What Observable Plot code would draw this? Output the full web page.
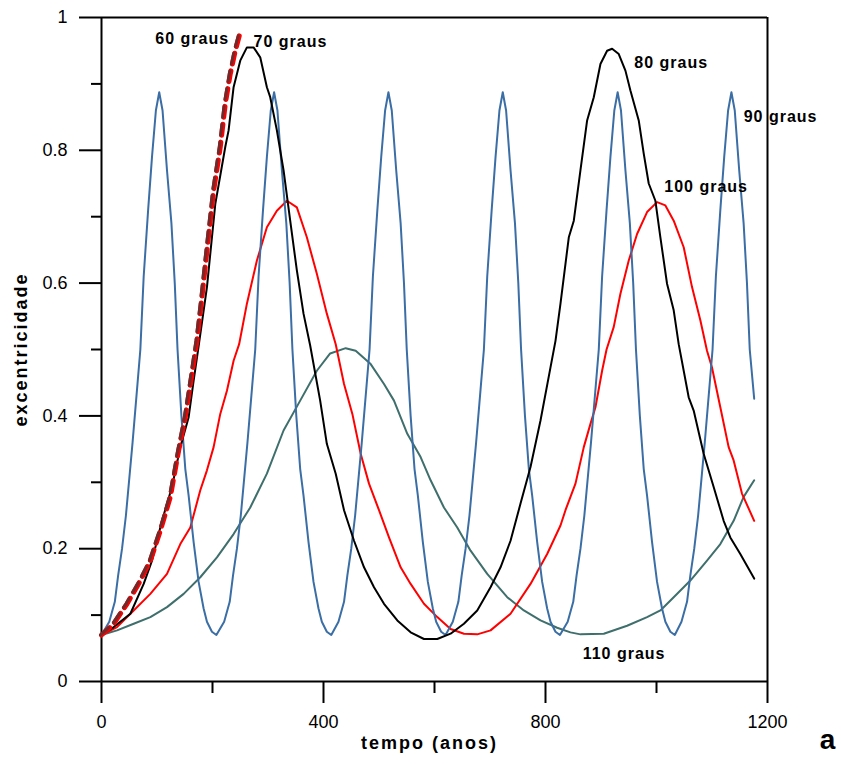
<!DOCTYPE html>
<html>
<head>
<meta charset="utf-8">
<script src="https://cdn.jsdelivr.net/npm/d3@7"></script>
<script src="https://cdn.jsdelivr.net/npm/@observablehq/plot@0.6"></script>
<style>
  body { margin: 0; background: #fff; }
  #chart svg { display: block; }
</style>
</head>
<body>
<div id="chart"></div>
<script>
// ---- data: [tempo (anos), excentricidade] ----
const serie60 = [[0,0.07],[22,0.087],[46,0.117],[70,0.152],[88,0.182],[106,0.227],[124,0.278],[139,0.348],[151,0.398],[163,0.463],[172,0.513],[181,0.579],[190,0.649],[202,0.739],[214,0.805],[223,0.87],[232,0.915],[241,0.95],[250,0.978]];

const serie70 = [[0,0.07],[22,0.082],[52,0.102],[76,0.147],[91,0.182],[109,0.242],[127,0.293],[142,0.353],[157,0.398],[166,0.453],[175,0.505],[190,0.594],[205,0.719],[223,0.805],[229,0.83],[238,0.895],[250,0.935],[262,0.955],[274,0.955],[286,0.94],[298,0.895],[304,0.88],[316,0.83],[328,0.77],[340,0.694],[352,0.619],[364,0.554],[376,0.506],[394,0.423],[406,0.358],[422,0.313],[437,0.258],[455,0.212],[473,0.172],[491,0.142],[509,0.117],[533,0.092],[557,0.074],[581,0.064],[605,0.064],[629,0.072],[653,0.087],[677,0.107],[701,0.142],[719,0.172],[737,0.212],[755,0.268],[773,0.323],[791,0.393],[809,0.473],[818,0.513],[827,0.569],[842,0.669],[851,0.694],[863,0.77],[875,0.845],[887,0.88],[899,0.93],[911,0.95],[920,0.953],[932,0.945],[944,0.92],[953,0.89],[968,0.845],[977,0.795],[986,0.75],[998,0.724],[1007,0.669],[1019,0.599],[1031,0.559],[1040,0.508],[1058,0.428],[1067,0.408],[1085,0.343],[1103,0.293],[1121,0.242],[1133,0.217],[1151,0.192],[1176,0.155]];

const serie90 = [
  [0,0.07],[14,0.09],[24,0.12],[30,0.16],[37,0.20],[44,0.25],[56,0.36],[64,0.44],[70,0.50],[76,0.61],[84,0.71],[91,0.79],[98,0.86],[104,0.8875],[110,0.86],[118,0.77],[126,0.69],[132,0.60],[137,0.50],[144,0.40],[151,0.32],[157,0.28],[166,0.21],[175,0.15],[184,0.11],[190,0.09],[199,0.075],[207,0.07],
  [221,0.09],[231,0.12],[237,0.16],[244,0.20],[251,0.25],[263,0.36],[271,0.44],[277,0.50],[283,0.61],[291,0.71],[298,0.79],[305,0.86],[311,0.8875],[317,0.86],[325,0.77],[333,0.69],[339,0.60],[344,0.50],[351,0.40],[358,0.32],[364,0.28],[373,0.21],[382,0.15],[391,0.11],[397,0.09],[406,0.075],[414,0.07],
  [427,0.09],[437,0.12],[443,0.16],[450,0.20],[457,0.25],[469,0.36],[477,0.44],[483,0.50],[489,0.61],[497,0.71],[504,0.79],[511,0.86],[517,0.8875],[523,0.86],[531,0.77],[539,0.69],[545,0.60],[550,0.50],[557,0.40],[564,0.32],[570,0.28],[579,0.21],[588,0.15],[597,0.11],[603,0.09],[612,0.075],[620,0.07],
  [633,0.09],[643,0.12],[649,0.16],[656,0.20],[663,0.25],[675,0.36],[683,0.44],[689,0.50],[695,0.61],[703,0.71],[710,0.79],[717,0.86],[723,0.8875],[729,0.86],[737,0.77],[745,0.69],[751,0.60],[756,0.50],[763,0.40],[770,0.32],[776,0.28],[785,0.21],[794,0.15],[803,0.11],[809,0.09],[818,0.075],[826,0.07],
  [840,0.09],[850,0.12],[856,0.16],[863,0.20],[870,0.25],[882,0.36],[890,0.44],[896,0.50],[902,0.61],[910,0.71],[917,0.79],[924,0.86],[930,0.8875],[936,0.86],[944,0.77],[952,0.69],[958,0.60],[963,0.50],[970,0.40],[977,0.32],[983,0.28],[992,0.21],[1001,0.15],[1010,0.11],[1016,0.09],[1025,0.075],[1033,0.07],
  [1045,0.09],[1055,0.12],[1061,0.16],[1068,0.20],[1075,0.25],[1087,0.36],[1095,0.44],[1101,0.50],[1107,0.61],[1115,0.71],[1122,0.79],[1129,0.86],[1135,0.8875],[1141,0.86],[1149,0.77],[1157,0.69],[1163,0.60],[1168,0.50],[1176,0.426]
];

const serie100 = [[0,0.07],[28,0.082],[58,0.107],[88,0.132],[118,0.162],[142,0.207],[160,0.232],[178,0.288],[190,0.318],[202,0.353],[214,0.403],[226,0.438],[238,0.483],[248,0.508],[262,0.569],[280,0.634],[298,0.684],[316,0.709],[334,0.724],[352,0.714],[370,0.669],[388,0.614],[406,0.554],[422,0.508],[437,0.448],[452,0.403],[467,0.343],[482,0.298],[500,0.258],[518,0.217],[539,0.172],[557,0.147],[581,0.117],[605,0.097],[629,0.079],[653,0.072],[677,0.071],[701,0.077],[737,0.102],[773,0.147],[803,0.192],[827,0.235],[836,0.258],[845,0.278],[854,0.298],[869,0.353],[881,0.388],[890,0.413],[902,0.468],[910,0.50],[923,0.534],[935,0.584],[950,0.634],[965,0.674],[983,0.707],[1001,0.722],[1016,0.717],[1031,0.694],[1049,0.654],[1064,0.594],[1079,0.544],[1091,0.498],[1100,0.473],[1115,0.413],[1130,0.353],[1139,0.333],[1154,0.283],[1176,0.242]];

const serie110 = [[0,0.07],[28,0.077],[58,0.087],[88,0.097],[118,0.112],[148,0.132],[178,0.157],[208,0.187],[238,0.222],[268,0.262],[298,0.313],[328,0.378],[358,0.423],[388,0.468],[412,0.494],[440,0.502],[458,0.498],[485,0.478],[509,0.448],[527,0.423],[551,0.373],[575,0.338],[593,0.303],[617,0.262],[641,0.232],[665,0.197],[695,0.162],[731,0.127],[761,0.107],[791,0.092],[821,0.081],[845,0.074],[863,0.071],[905,0.072],[947,0.084],[983,0.097],[1007,0.107],[1031,0.127],[1061,0.152],[1091,0.182],[1115,0.207],[1139,0.242],[1157,0.278],[1176,0.303]];

// series labels
const labelText = ["60 graus", "70 graus", "80 graus", "90 graus", "100 graus", "110 graus"];
const labelT = [97, 274, 960, 1157, 1014, 867];
const labelE = [0.968, 0.964, 0.932, 0.851, 0.745, 0.041];

// ticks
const xMajor = [0, 400, 800, 1200];
const xMinor = [200, 600, 1000];
const yMajor = [0, 0.2, 0.4, 0.6, 0.8, 1];
const yMinor = [0.1, 0.3, 0.5, 0.7, 0.9];

const rows = (pairs) => pairs.map(([t, e]) => ({t, e}));
const labels = labelText.map((text, i) => ({text, t: labelT[i], e: labelE[i]}));

const chart = Plot.plot({
  width: 841,
  height: 764,
  marginLeft: 101,
  marginRight: 74,
  marginTop: 17,
  marginBottom: 83,
  style: {fontFamily: "'Liberation Sans', Arial, sans-serif", background: "#fff", color: "#000"},
  x: {domain: [0, 1200], label: null},
  y: {domain: [0, 1], label: null},
  marks: [
    Plot.ruleY([0, 1], {strokeWidth: 2, stroke: "#000"}),
    Plot.ruleX([0, 1200], {strokeWidth: 2, stroke: "#000"}),
    Plot.axisY({ticks: yMajor, tickSize: 22, tickPadding: 12, fontSize: 18, strokeWidth: 2, stroke: "#000", label: null, tickFormat: d => String(d)}),
    Plot.axisY({ticks: yMinor, tickSize: 10, strokeWidth: 2, stroke: "#000", label: null, tickFormat: () => ""}),
    Plot.axisX({ticks: xMajor, tickSize: 22, tickPadding: 12, fontSize: 18, strokeWidth: 2, stroke: "#000", label: null, tickFormat: d => String(d)}),
    Plot.axisX({ticks: xMinor, tickSize: 12, strokeWidth: 2, stroke: "#000", label: null, tickFormat: () => ""}),
    Plot.line(rows(serie110), {x: "t", y: "e", stroke: "#3f6f6c", strokeWidth: 2}),
    Plot.line(rows(serie100), {x: "t", y: "e", stroke: "#ff0000", strokeWidth: 2}),
    Plot.line(rows(serie90), {x: "t", y: "e", stroke: "#3b6ea5", strokeWidth: 2}),
    Plot.line(rows(serie70), {x: "t", y: "e", stroke: "#000", strokeWidth: 2}),
    Plot.line(rows(serie60), {x: "t", y: "e", stroke: "#ff0000", strokeWidth: 5, strokeDasharray: "11,7"}),
    Plot.line(rows(serie60), {x: "t", y: "e", stroke: "#6e2b2b", strokeWidth: 3, strokeDasharray: "11,7", dx: -1}),
    Plot.text(labels, {x: "t", y: "e", text: "text", textAnchor: "start", fontSize: 16, fontWeight: "bold", fill: "#000"}),
    Plot.text(["tempo (anos)"], {frameAnchor: "bottom", dx: -5, dy: 67, textAnchor: "middle", text: d => d, fontSize: 18, fontWeight: "bold", fill: "#000"}),
    Plot.text(["excentricidade"], {frameAnchor: "left", dx: -80, rotate: -90, textAnchor: "middle", text: d => d, fontSize: 18, fontWeight: "bold", fill: "#000"}),
    Plot.text(["a"], {frameAnchor: "bottom-right", dx: 60, dy: 67, textAnchor: "middle", text: d => d, fontSize: 28, fontWeight: "bold", fill: "#000"})
  ]
});
document.getElementById("chart").append(chart);

// letter spacing of the bold texts
chart.querySelectorAll("text").forEach(t => {
  const s = t.textContent;
  if (s === "tempo (anos)" || s === "excentricidade") t.setAttribute("letter-spacing", "2");
  else if (labelText.includes(s)) t.setAttribute("letter-spacing", "1");
});
</script>
</body>
</html>
